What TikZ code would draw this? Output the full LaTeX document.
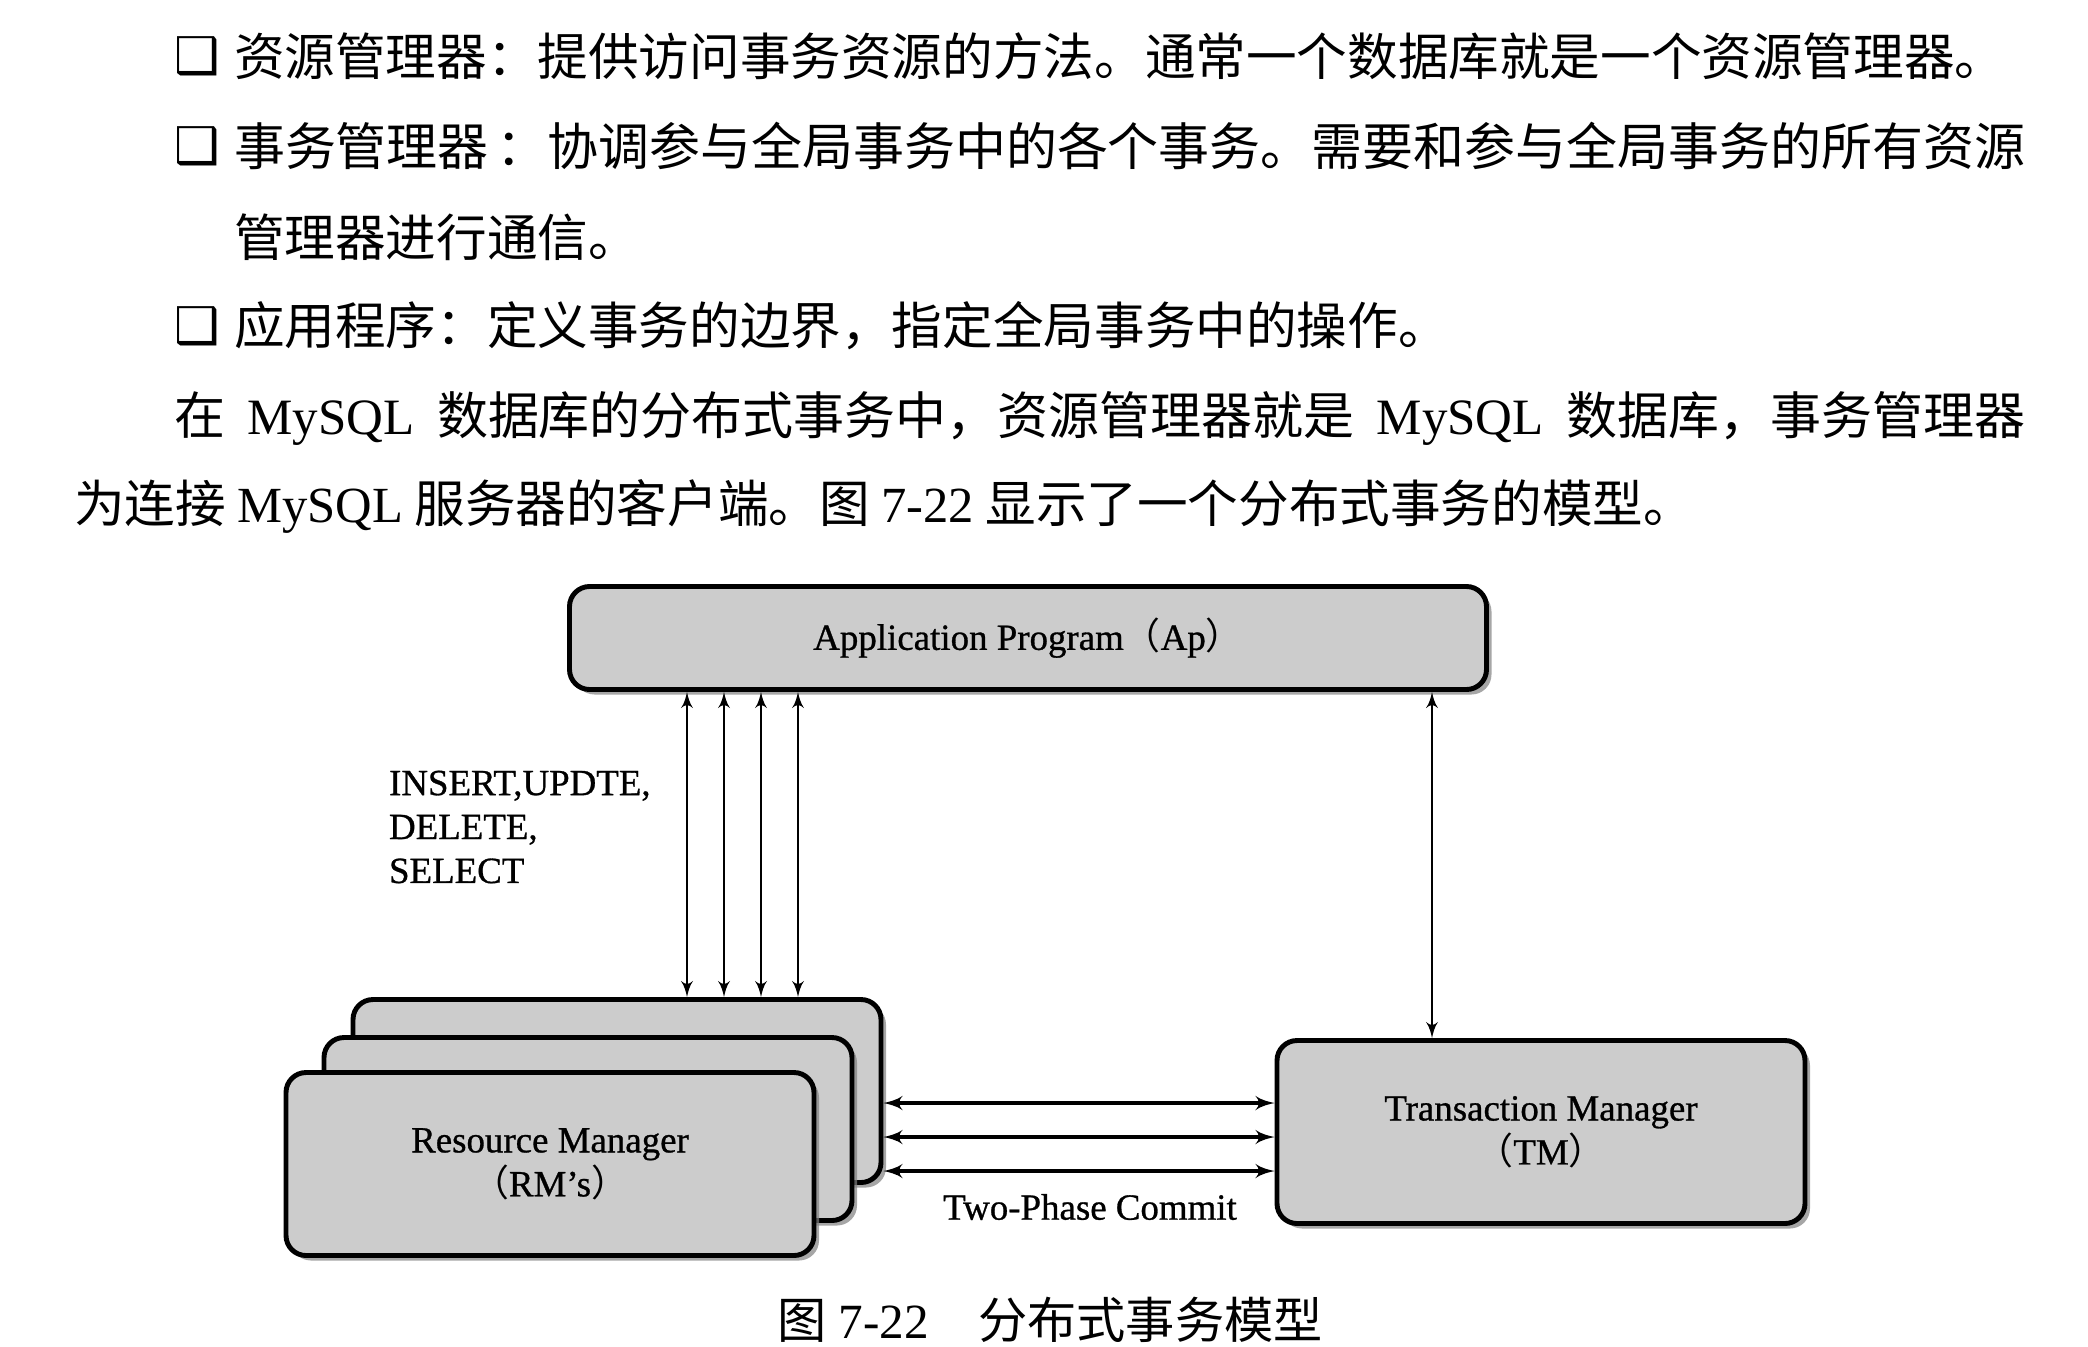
\documentclass[tikz,border=0pt]{standalone}
\usepackage{fontspec}
\setmainfont{Liberation Serif}
\newfontfamily\cjk{Noto Sans CJK SC}
\newfontfamily\lat{Liberation Serif}
\newfontfamily\heavy[FakeBold=0.8]{Liberation Serif}
\newfontfamily\sym{DejaVu Sans}
\usetikzlibrary{arrows,shadows,positioning}
\newlength{\lw}
\setlength{\lw}{0.6pt}
\newcommand{\boxmark}{{\sym ❑}}
\tikzstyle{every picture}+=[>=latex']
\tikzstyle{every picture}+=[line width=\lw]
\tikzstyle{mgr}+=[draw, fill=black!20, rounded corners=2mm]
\tikzstyle{mgr}+=[line width=1.4pt, inner sep=0pt]
\tikzstyle{mgr}+=[minimum width=52.8mm, minimum height=18.3mm]
\tikzstyle{mgr}+=[drop shadow={shadow xshift=0.5mm,shadow yshift=-0.5mm,opacity=.7}]
\tikzstyle{mgr}+=[align=center, font=\heavy\fontsize{10.5}{12.5}\selectfont]
\tikzstyle{body}+=[anchor=west, inner sep=0pt, font=\cjk\fontsize{14.4}{17}\selectfont]
\tikzstyle{wide}+=[font=\cjk\fontsize{14.5}{17}\selectfont]
\tikzstyle{lbl}+=[inner sep=0pt, font=\heavy\fontsize{10.5}{12.5}\selectfont]
\tikzstyle{call}+=[<->]
\tikzstyle{vote}+=[<->, line width=0.9pt]

\begin{document}
\begin{tikzpicture}[x=0.1mm, y=-0.1mm]
\useasboundingbox (0,0) rectangle (2088,1346);

% text above the figure
\node[body] (b1) at (173,56) {\boxmark};
\node[body] (l1) at (233,56) {资源管理器：提供访问事务资源的方法。通常一个数据库就是一个资源管理器。};
\node[body] (b2) at (173,146) {\boxmark};
\node[body, wide] (l2) at (233,146) {\makebox[179.1mm][s]{事务管理器 ：协调参与全局事务中的各个事务。需要和参与全局事务的所有资源}};
\node[body] (l3) at (233,237) {管理器进行通信。};
\node[body] (b3) at (173,326) {\boxmark};
\node[body] (l4) at (233,326) {应用程序：定义事务的边界，指定全局事务中的操作。};
\node[body, wide] (l5) at (173,418) {\makebox[185.1mm][s]{在 {\lat MySQL} 数据库的分布式事务中，资源管理器就是 {\lat MySQL} 数据库，事务管理器}};
\node[body] (l6) at (73,506) {为连接 {\lat MySQL} 服务器的客户端。图 {\lat 7-22} 显示了一个分布式事务的模型。};

% the model
\node[mgr, minimum width=91.7mm, minimum height=10.3mm] (ap) at (1028,638) {Application Program{\cjk （}Ap{\cjk ）}};
\node[mgr] (rmc) at (617,1091) {};
\node[mgr] (rmb) at (588,1129) {};
\node[mgr] (rma) at (550,1164) {Resource Manager\\{\cjk （}RM’s{\cjk ）}};
\node[mgr] (tm) at (1541,1132) {Transaction Manager\\{\cjk （}TM{\cjk ）}};

\node[lbl, align=left, anchor=west] (ops) at (388,827) {INSERT,UPDTE,\\DELETE,\\SELECT};
\node[lbl] (tpc) at (1090,1207) {Two-Phase Commit};

\foreach \x in {687,724,761,798}
   \draw[call] (ap.south -| \x,0) -- (rmc.north -| \x,0);
\draw[call] (ap.south -| 1432,0) -- (tm.north -| 1432,0);
\foreach \y in {1103,1137,1171}
   \draw[vote] (rmc.east |- 0,\y) -- (tm.west |- 0,\y);

\node[inner sep=0pt, font=\fontsize{14}{17}\selectfont] (cap) at (1050,1320)
   {{\cjk 图} {\lat 7-22}\hspace{1em}{\cjk 分布式事务模型}};
\end{tikzpicture}
\end{document}
